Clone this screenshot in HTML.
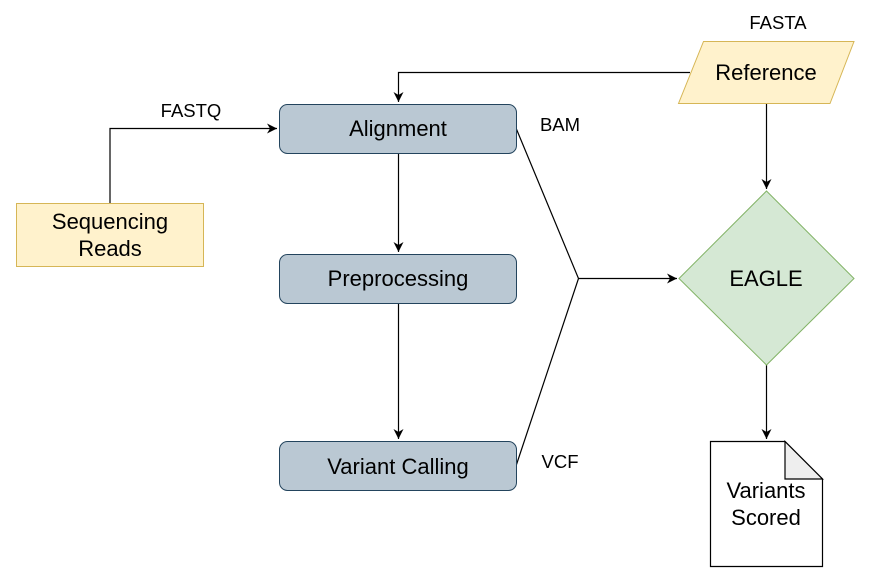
<!DOCTYPE html>
<html><head><meta charset="utf-8"><style>
html,body{margin:0;padding:0;background:#fff;}
svg{display:block;}
text{font-family:"Liberation Sans",Arial,sans-serif;fill:#000;}
</style></head><body>
<svg width="871" height="587" viewBox="0 0 871 587" xmlns="http://www.w3.org/2000/svg">
<defs>
<marker id="a" markerWidth="12" markerHeight="12" refX="10" refY="5" orient="auto" markerUnits="userSpaceOnUse">
<path d="M0,0 L10,5 L0,10 L3,5 Z" fill="#000"/>
</marker>
</defs>
<g stroke="#000" stroke-width="1.2" fill="none">
<polyline points="110,203 110,128.5 277,128.5" marker-end="url(#a)"/>
<polyline points="690,72.5 398.5,72.5 398.5,102" marker-end="url(#a)"/>
<line x1="766.5" y1="103" x2="766.5" y2="189" marker-end="url(#a)"/>
<line x1="398.5" y1="153" x2="398.5" y2="252" marker-end="url(#a)"/>
<line x1="398.5" y1="303" x2="398.5" y2="439" marker-end="url(#a)"/>
<polyline points="516,128 578.5,278.5 516,466"/>
<line x1="578.5" y1="278.5" x2="677" y2="278.5" marker-end="url(#a)"/>
<line x1="766.5" y1="365" x2="766.5" y2="439" marker-end="url(#a)"/>
</g>
<rect x="16.5" y="203.5" width="187" height="63" fill="#fff2cc" stroke="#d6b656"/>
<text x="110" y="229" font-size="22" text-anchor="middle">Sequencing</text>
<text x="110" y="256" font-size="22" text-anchor="middle">Reads</text>
<text x="191" y="117" font-size="18.5" text-anchor="middle">FASTQ</text>

<rect x="279.5" y="104.5" width="237" height="49" rx="8" fill="#bac8d3" stroke="#23445d"/>
<text x="398" y="136" font-size="22" text-anchor="middle">Alignment</text>
<rect x="279.5" y="254.5" width="237" height="49" rx="8" fill="#bac8d3" stroke="#23445d"/>
<text x="398" y="286" font-size="22" text-anchor="middle">Preprocessing</text>
<rect x="279.5" y="441.5" width="237" height="49" rx="8" fill="#bac8d3" stroke="#23445d"/>
<text x="398" y="474" font-size="22" text-anchor="middle">Variant Calling</text>

<text x="560" y="131" font-size="18.5" text-anchor="middle">BAM</text>
<text x="560" y="468" font-size="18.5" text-anchor="middle">VCF</text>

<polygon points="703.5,41.5 854,41.5 830,103.5 678.5,103.5" fill="#fff2cc" stroke="#d6b656"/>
<text x="766" y="80" font-size="22" text-anchor="middle">Reference</text>
<text x="778" y="29" font-size="18.5" text-anchor="middle">FASTA</text>

<polygon points="766.5,191 854,278.5 766.5,365 679,278.5" fill="#d5e8d4" stroke="#82b366"/>
<text x="766" y="286" font-size="22" text-anchor="middle">EAGLE</text>

<path d="M710.5,441.5 L785,441.5 L822.5,479 L822.5,566.5 L710.5,566.5 Z" fill="#fff" stroke="#000" stroke-width="1.2"/>
<path d="M785,441.5 L785,479 L822.5,479 Z" fill="#eeeeee" stroke="#000" stroke-width="1.2"/>
<text x="766" y="498" font-size="22" text-anchor="middle">Variants</text>
<text x="766" y="525" font-size="22" text-anchor="middle">Scored</text>
</svg>
</body></html>
